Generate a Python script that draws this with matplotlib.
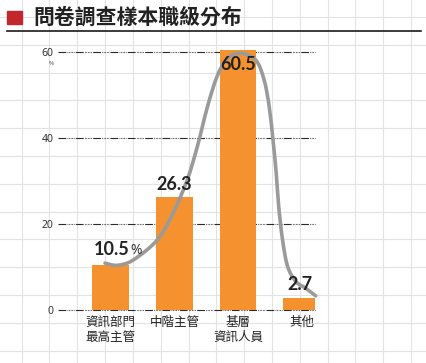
# -*- coding: utf-8 -*-
# 問卷調查樣本職級分布
import matplotlib
matplotlib.use("Agg")
import matplotlib.pyplot as plt
from matplotlib.lines import Line2D
from matplotlib.path import Path
from matplotlib.patches import PathPatch

plt.rcParams['font.family'] = ['Noto Sans CJK TC', 'DejaVu Sans']

categories = ["資訊部門\n最高主管", "中階主管", "基層\n資訊人員", "其他"]
values = [10.5, 26.3, 60.5, 2.7]
yticks = [0, 20, 40, 60]

# gray trend curve (x in bar units, y in %)
curve_x = [-0.09, 0.10, 0.35, 0.73, 0.98, 1.20, 1.36, 1.52, 1.67, 1.83,
           2.04, 2.28, 2.41, 2.49, 2.55, 2.60, 2.64, 2.70, 2.78, 2.91, 3.06, 3.22]
curve_y = [10.9, 10.4, 11.6, 16.3, 22.6, 30.2, 38.0, 47.3, 54.3, 58.5,
           59.7, 58.1, 53.5, 47.3, 39.5, 31.9, 24.0, 16.3, 10.1, 6.6, 5.1, 3.3]


def smooth_path(px, py):
    # catmull-rom through the points, drawn as cubic bezier segments
    pts = list(zip(px, py))
    verts = [pts[0]]
    codes = [Path.MOVETO]
    for i in range(len(pts) - 1):
        p0 = pts[i - 1] if i > 0 else pts[i]
        p1 = pts[i]
        p2 = pts[i + 1]
        p3 = pts[i + 2] if i + 2 < len(pts) else pts[i + 1]
        c1 = (p1[0] + (p2[0] - p0[0]) / 6, p1[1] + (p2[1] - p0[1]) / 6)
        c2 = (p2[0] - (p3[0] - p1[0]) / 6, p2[1] - (p3[1] - p1[1]) / 6)
        verts += [c1, c2, p2]
        codes += [Path.CURVE4] * 3
    return Path(verts, codes)


W, H = 427, 363
fig = plt.figure(figsize=(W / 100, H / 100), dpi=100)
fig.patch.set_facecolor("white")

# graph paper background
grid_c = "#e3e3e3"
x = 21.7
while x < W:
    fig.add_artist(Line2D([x / W, x / W], [0, 1], color=grid_c, lw=0.8, zorder=0))
    x += 27.8
y = 156 - 27.8 * 6
while y < H:
    fig.add_artist(Line2D([0, 1], [1 - y / H, 1 - y / H], color=grid_c, lw=0.8, zorder=0))
    y += 27.8

# title
fig.patches.append(plt.Rectangle((7 / W, 1 - 24 / H), 15 / W, 13 / H,
                                 transform=fig.transFigure, color="#c1272d", zorder=2))
fig.text(33 / W, 1 - 17 / H, "問卷調查樣本職級分布", fontsize=15, fontweight="bold",
         color="#222222", va="center", ha="left")
fig.add_artist(Line2D([7 / W, 421 / W], [1 - 31 / H, 1 - 31 / H], color="#1a1a1a", lw=1.2))

ax = fig.add_axes([58 / W, 53 / H, 257 / W, 266.6 / H])
ax.patch.set_alpha(0)
for s in ax.spines.values():
    s.set_visible(False)

xs = list(range(len(values)))
ax.set_xlim(-0.83, 3.21)
ax.set_ylim(0, 62)

pattern = [7, 1.2, 0.6, 0.8, 0.6, 0.8, 0.6, 0.8, 0.6, 0.8, 0.6, 1.2]
for t in yticks:
    ax.axhline(t, color="#2a2a2a", lw=0.8, dashes=pattern, zorder=1, clip_on=False)

ax.bar(xs, values, width=0.58, color="#f5922f", zorder=2)
ax.add_patch(PathPatch(smooth_path(curve_x, curve_y), facecolor="none",
                       edgecolor="#9a9a9a", lw=2.6, capstyle="round",
                       joinstyle="round", zorder=3, clip_on=False))

ax.set_yticks(yticks)
ax.set_yticklabels([str(t) for t in yticks], fontsize=7.5, color="#333333",
                   family=["Noto Sans", "DejaVu Sans"])
ax.tick_params(axis="y", length=0, pad=3)
ax.set_xticks(xs)
ax.set_xticklabels(categories, fontsize=9, color="#222222", linespacing=1.2,
                   fontweight="medium")
ax.tick_params(axis="x", length=0, pad=4)
ax.text(-0.89, 57.9, "%", fontsize=4, color="#333333", ha="right", va="top",
        transform=ax.transData)

num_font = dict(fontsize=13, fontweight="bold", color="#222222",
                family=["Lato", "DejaVu Sans"])
ax.text(xs[0] + 0.29, values[0] + 1.5, "10.5", ha="right", va="bottom", **num_font)
ax.text(xs[0] + 0.30, values[0] + 1.7, "%", ha="left", va="bottom", fontsize=10,
        color="#333333", family=["Noto Sans", "DejaVu Sans"])
ax.text(xs[1], values[1] + 1.0, "26.3", ha="center", va="bottom", **num_font)
ax.text(xs[2], values[2] - 1.5, "60.5", ha="center", va="top", **num_font)
ax.text(xs[3] - 0.02, values[3] + 1.2, "2.7", ha="center", va="bottom", **num_font)

fig.savefig("out.png", dpi=100)
